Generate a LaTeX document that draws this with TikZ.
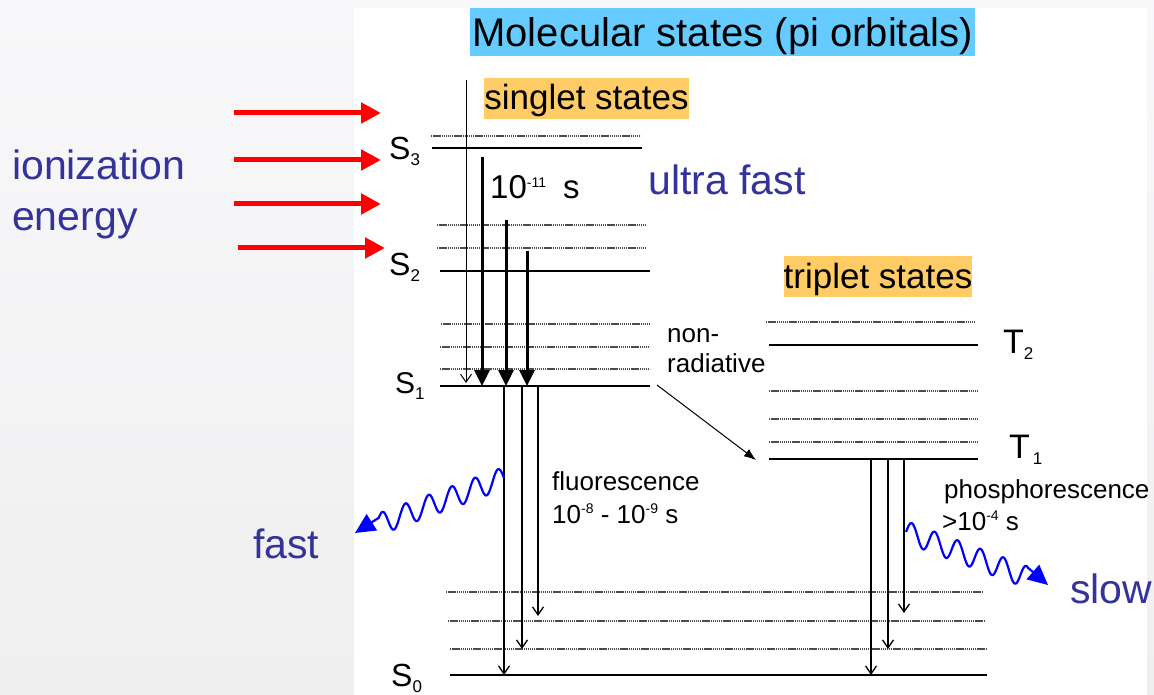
\documentclass[tikz,border=0pt]{standalone}
\usepackage{fontspec}
\setmainfont{Liberation Sans}
\usetikzlibrary{arrows.meta}
\usetikzlibrary{calc}
\usetikzlibrary{positioning}

\newcommand{\stlab}[2]{#1\raisebox{-6pt}{\fontsize{17}{17}\selectfont #2}}
\newcommand{\pw}[2][10pt]{\raisebox{#1}{\fontsize{14}{14}\selectfont #2}}

\begin{document}
\begin{tikzpicture}[x=1pt, y=-1pt, >=Latex, line cap=butt]

			\definecolor{bgTop}{RGB}{248,248,250}
			\definecolor{bgBot}{RGB}{239,239,240}
			\definecolor{titleBlue}{RGB}{102,204,255}
			\definecolor{boxOrange}{RGB}{255,204,102}
			\definecolor{labBlue}{RGB}{51,51,153}
			\definecolor{waveBlue}{RGB}{0,0,255}
			\definecolor{pumpRed}{RGB}{255,0,0}

			\tikzset{
				titlebox/.style={fill=titleBlue, inner sep=0pt, minimum width=505pt, text height=38.5pt, text depth=9.5pt, anchor=base, font=\fontsize{40}{48}\selectfont},
				spinbox/.style={fill=boxOrange, inner sep=0pt, text height=32pt, text depth=9pt, anchor=base, font=\fontsize{35}{42}\selectfont},
				biglab/.style={text=labBlue, inner sep=0pt, anchor=base west, font=\fontsize{41}{49}\selectfont},
				statelab/.style={inner sep=0pt, anchor=base west, font=\fontsize{32}{38}\selectfont},
				note/.style={inner sep=0pt, anchor=base west, font=\fontsize{26}{31}\selectfont},
				level/.style={black, line width=1.4pt},
				sublevel/.style={black!70, line width=1.2pt, dash pattern=on 1.4pt off 0.7pt},
				pump/.style={pumpRed, line width=5pt, -{Triangle[length=20pt,width=20pt]}},
				relax/.style={black, line width=3pt, -{Triangle[length=16pt,width=15pt]}},
				emit/.style={black, line width=1.3pt, -{Straight Barb[length=8pt,width=11pt]}},
				isc/.style={black, line width=1pt, -{Latex[length=12pt,width=9pt]}},
				photon/.style={waveBlue, line width=2.2pt, line join=round, -{Triangle[length=20pt,width=19pt]}},
			}

			\useasboundingbox (0,0) rectangle (1154,695);

			% --- background and white panel
			\shade[top color=bgTop, bottom color=bgBot] (0,0) rectangle (1154,695);
			\fill[white] (354,8) rectangle (1147,695);

			% --- headings
			\node[titlebox] (title) at (722.5,46.5) {Molecular states (pi orbitals)};
			\node[spinbox, minimum width=203pt] (singlet) at (586.5,110) {singlet states};
			\node[spinbox, minimum width=188pt] (triplet) at (878,288) {triplet states};

			% --- singlet levels
			\draw[sublevel] (431,136) -- (641,136);
			\draw[level] (432,148) coordinate (lvS3) -- (642,148);
			\draw[sublevel] (437,225) -- (646,225);
			\draw[sublevel] (437,248) -- (646,248);
			\draw[level] (440,271) coordinate (lvS2) -- (650,271);
			\draw[sublevel] (441,324) -- (651,324);
			\draw[sublevel] (440,347) -- (650,347);
			\draw[sublevel] (440,369) -- (650,369);
			\draw[level] (440,386) coordinate (lvS1) -- (650,386);

			% --- ground state levels
			\draw[sublevel] (446,592) coordinate (lvG1) -- (983,592);
			\draw[sublevel] (448,621) coordinate (lvG2) -- (985,621);
			\draw[sublevel] (450,649) coordinate (lvG3) -- (987,649);
			\draw[level] (450,675) coordinate (lvS0) -- (987,675);

			% --- triplet levels
			\draw[sublevel] (766,322) -- (975,322);
			\draw[level] (769,345) coordinate (lvT2) -- (978,345);
			\draw[sublevel] (769,391) -- (978,391);
			\draw[sublevel] (769,419) -- (978,419);
			\draw[sublevel] (769,442) -- (978,442);
			\draw[level] (769,459) coordinate (lvT1) -- (978,459);

			% --- level names
			\node[statelab] (S3) at (389,160) {\stlab{S}{3}};
			\node[statelab] (S2) at (389,275) {\stlab{S}{2}};
			\node[statelab, font=\fontsize{30}{36}\selectfont] (S1) at (395,393) {\stlab{S}{1}};
			\node[statelab] (S0) at (391,686) {\stlab{S}{0}};
			\node[statelab, font=\fontsize{34}{40}\selectfont] (T2) at (1003,353) {\stlab{T}{2}};
			\node[statelab, font=\fontsize{34}{40}\selectfont] (T1) at (1009,458) {\stlab{T}{\,1}};

			% --- excitation (red)
			\foreach \i/\xs/\xe/\y in {1/234/381/113, 2/234/381/160, 3/234/381/204, 4/238/385/248} {
				\coordinate (pump\i s) at (\xs,\y);
				\coordinate (pump\i e) at (\xe,\y);
				\draw[pump] (pump\i s) -- (pump\i e);
			}

			% --- internal conversion down to S1
			\coordinate (ic0) at (466,80);
			\coordinate (ic1) at (482,157);
			\coordinate (ic2) at (506,220);
			\coordinate (ic3) at (527,251);
			\draw[emit, line width=1pt] (ic0) -- ($(ic0 |- lvS1)+(0,-3)$);
			\draw[relax] (ic1) -- (ic1 |- lvS1);
			\draw[relax] (ic2) -- (ic2 |- lvS1);
			\draw[relax] (ic3) -- (ic3 |- lvS1);

			% --- fluorescence
			\coordinate (fl1) at (504,386);
			\coordinate (fl2) at (522,386);
			\coordinate (fl3) at (538,386);
			\draw[emit] (fl1) -- (fl1 |- lvS0);
			\draw[emit] (fl2) -- (fl2 |- lvG3);
			\draw[emit] (fl3) -- ($(fl3 |- lvG2)+(0,-5)$);

			% --- phosphorescence
			\coordinate (ph1) at (871,459);
			\coordinate (ph2) at (888,459);
			\coordinate (ph3) at (904,459);
			\draw[emit] (ph1) -- (ph1 |- lvS0);
			\draw[emit] (ph2) -- (ph2 |- lvG3);
			\draw[emit] (ph3) -- ($(ph3 |- lvG1)+(0,21)$);

			% --- non-radiative crossing
			\coordinate (iscA) at (657,385);
			\coordinate (iscB) at (756,460);
			\draw[isc] (iscA) -- (iscB);

			% --- emitted light (wiggles are vertical)
			\coordinate (fw0) at (504,478);
			\coordinate (fw1) at (355,533);
			\coordinate (sw0) at (906,532);
			\coordinate (sw1) at (1048,585);
			\begin{scope}[shift={(fw0)}]
				\draw[photon] plot[domain=0:0.84, samples=140] ({-149*\x},{55*\x-11*sin(360*6.43*\x)}) -- (fw1);
			\end{scope}
			\begin{scope}[shift={(sw0)}]
				\draw[photon] plot[domain=0:0.86, samples=140] ({142*\x},{53*\x-11*sin(360*6.2*\x)}) -- (sw1);
			\end{scope}

			% --- labels
			\node[biglab] (ion) at (12,180) {ionization};
			\node[biglab] (energy) at (12,230.5) {energy};
			\node[biglab] (ultra) at (648,195) {ultra fast};
			\node[biglab] (fast) at (253,558) {fast};
			\node[biglab] (slow) at (1070,603) {slow};

			\node[note, font=\fontsize{33}{40}\selectfont] (tic) at (490,199) {10\pw[11pt]{-11}\hspace{17pt}s};
			\node[note] (nonA) at (667,342) {non-};
			\node[note] (nonB) at (667,372) {radiative};
			\node[note] (fluoA) at (552,490) {fluorescence};
			\node[note] (fluoB) at (552,523) {10\pw{-8} - 10\pw{-9} s};
			\node[note] (phosA) at (944,498) {phosphorescence};
			\node[note] (phosB) at (942,530) {>10\pw{-4} s};

		\end{tikzpicture}
\end{document}
